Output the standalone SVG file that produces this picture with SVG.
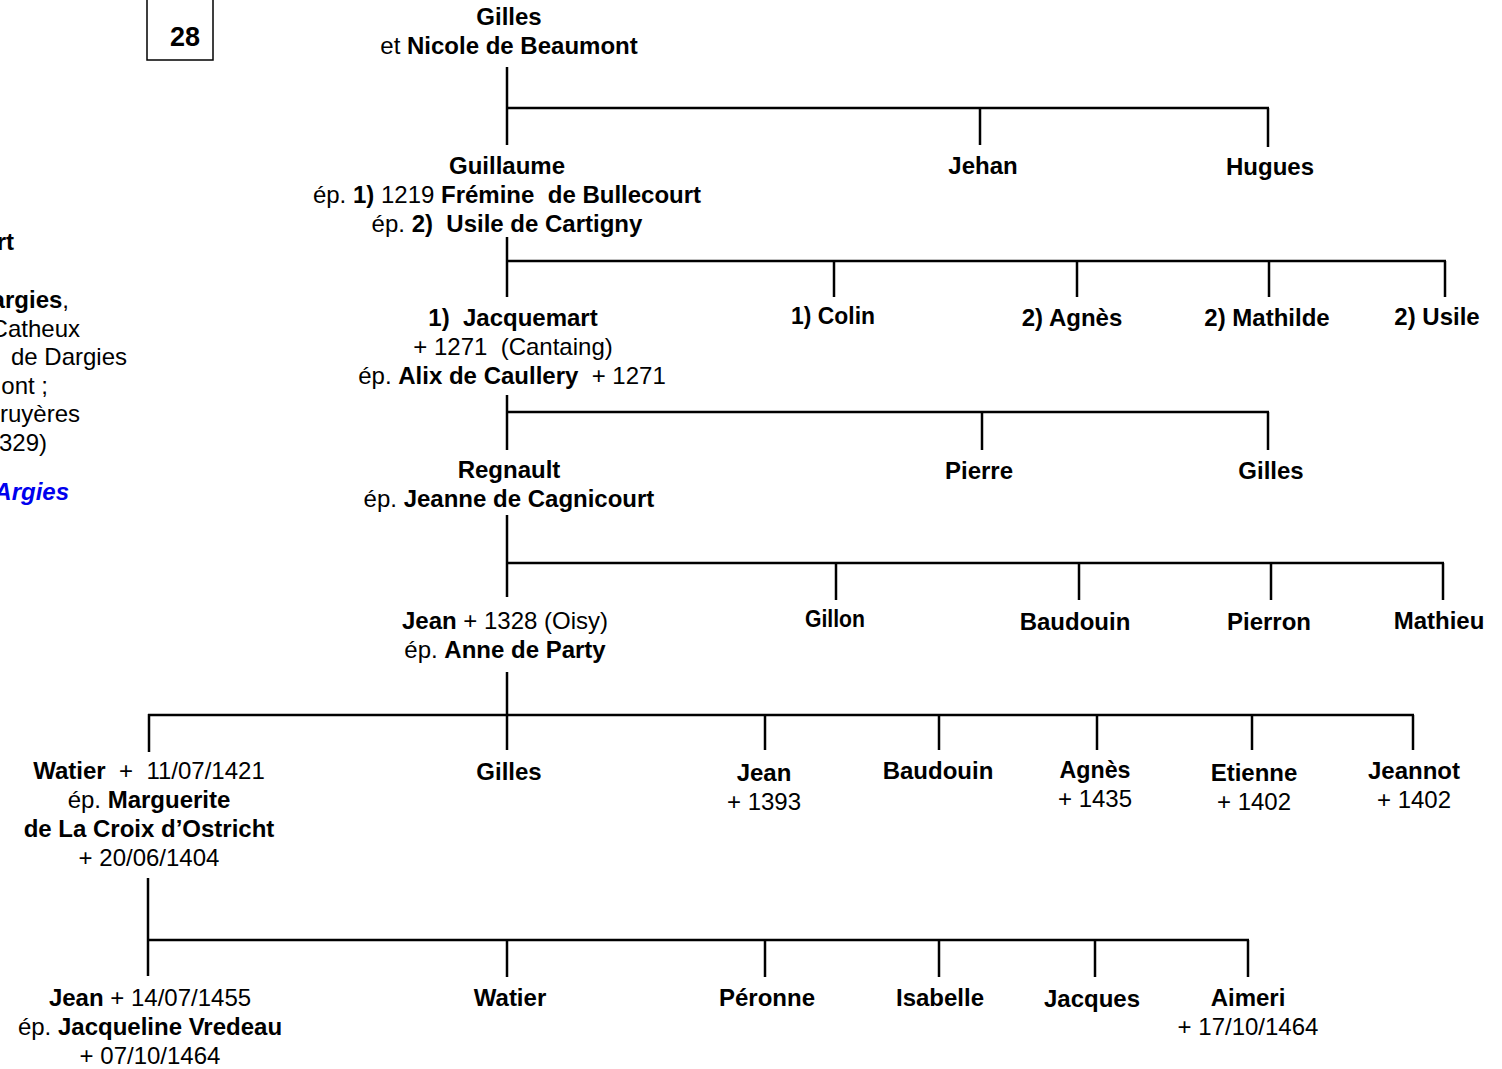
<svg xmlns="http://www.w3.org/2000/svg" width="1502" height="1069" viewBox="0 0 1502 1069">
<style>
text{font-family:"Liberation Sans",Arial,sans-serif;font-size:24px;fill:#000;text-anchor:middle;white-space:pre}
.b{font-weight:bold}
.r{font-weight:normal}
.e{text-anchor:end}
.blue{fill:#0000ee;font-weight:bold;font-style:italic}
#connectors line{stroke:#000;stroke-width:2.5}
</style>
<rect width="1502" height="1069" fill="#fff"/>
<g id="box"><rect x="147" y="-2" width="66" height="62" fill="none" stroke="#000" stroke-width="1.5"/><text x="185" y="46" class="b" style="font-size:27px">28</text></g>
<g id="sidebar">
<text x="14" y="250" class="b e">rt</text>
<text x="69" y="308" class="e"><tspan class="b">argies</tspan>,</text>
<text x="80" y="337" class="e">Catheux</text>
<text x="127" y="365" class="e">de Dargies</text>
<text x="48" y="394" class="e">ont ;</text>
<text x="80" y="422" class="e">ruyères</text>
<text x="47" y="451" class="e">329)</text>
<text x="69" y="500" class="e blue">Argies</text>
</g>
<g id="connectors">
<line x1="507" y1="67" x2="507" y2="145"/><line x1="507" y1="108" x2="1269" y2="108"/><line x1="980" y1="108" x2="980" y2="145"/><line x1="1268" y1="108" x2="1268" y2="147"/>
<line x1="507" y1="237" x2="507" y2="297"/><line x1="507" y1="261" x2="1446" y2="261"/><line x1="834" y1="261" x2="834" y2="297"/><line x1="1077" y1="261" x2="1077" y2="297"/><line x1="1269" y1="261" x2="1269" y2="297"/><line x1="1445" y1="261" x2="1445" y2="297"/>
<line x1="507" y1="395" x2="507" y2="450"/><line x1="507" y1="412" x2="1269" y2="412"/><line x1="982" y1="412" x2="982" y2="450"/><line x1="1268" y1="412" x2="1268" y2="450"/>
<line x1="507" y1="515" x2="507" y2="597"/><line x1="507" y1="563" x2="1444" y2="563"/><line x1="836" y1="563" x2="836" y2="600"/><line x1="1079" y1="563" x2="1079" y2="600"/><line x1="1271" y1="563" x2="1271" y2="600"/><line x1="1443" y1="563" x2="1443" y2="600"/>
<line x1="507" y1="672" x2="507" y2="750"/><line x1="148" y1="715" x2="1414" y2="715"/><line x1="149" y1="714" x2="149" y2="752"/><line x1="765" y1="715" x2="765" y2="750"/><line x1="939" y1="715" x2="939" y2="750"/><line x1="1097" y1="715" x2="1097" y2="750"/><line x1="1252" y1="715" x2="1252" y2="750"/><line x1="1413" y1="715" x2="1413" y2="750"/>
<line x1="148" y1="878" x2="148" y2="976"/><line x1="148" y1="940" x2="1249" y2="940"/><line x1="507" y1="940" x2="507" y2="977"/><line x1="765" y1="940" x2="765" y2="977"/><line x1="939" y1="940" x2="939" y2="977"/><line x1="1095" y1="940" x2="1095" y2="977"/><line x1="1248" y1="940" x2="1248" y2="977"/>
</g>
<g id="n-gilles"><text x="509" y="25" class="b">Gilles</text><text x="509" y="54">et <tspan class="b">Nicole de Beaumont</tspan></text></g>
<g id="n-guillaume"><text x="507" y="174" class="b">Guillaume</text><text x="507" y="203">ép. <tspan class="b">1)</tspan> 1219 <tspan class="b">Frémine  de Bullecourt</tspan></text><text x="507" y="232">ép. <tspan class="b">2)  Usile de Cartigny</tspan></text></g>
<g id="n-jehan"><text x="983" y="174" class="b">Jehan</text></g>
<g id="n-hugues"><text x="1270" y="175" class="b">Hugues</text></g>
<g id="n-jacquemart"><text x="513" y="326" class="b">1)  Jacquemart</text><text x="513" y="355">+ 1271  (Cantaing)</text><text x="512" y="384">ép. <tspan class="b">Alix de Caullery</tspan>  + 1271</text></g>
<g id="n-colin"><text x="833" y="324" class="b" textLength="84" lengthAdjust="spacingAndGlyphs">1) Colin</text></g>
<g id="n-agnes1"><text x="1072" y="326" class="b">2) Agnès</text></g>
<g id="n-mathilde"><text x="1267" y="326" class="b">2) Mathilde</text></g>
<g id="n-usile"><text x="1437" y="325" class="b">2) Usile</text></g>
<g id="n-regnault"><text x="509" y="478" class="b">Regnault</text><text x="509" y="507">ép. <tspan class="b">Jeanne de Cagnicourt</tspan></text></g>
<g id="n-pierre"><text x="979" y="479" class="b">Pierre</text></g>
<g id="n-gilles2"><text x="1271" y="479" class="b">Gilles</text></g>
<g id="n-jean1"><text x="505" y="629"><tspan class="b">Jean</tspan> + 1328 (Oisy)</text><text x="505" y="658">ép. <tspan class="b">Anne de Party</tspan></text></g>
<g id="n-gillon"><text x="835" y="627" class="b" textLength="60" lengthAdjust="spacingAndGlyphs">Gillon</text></g>
<g id="n-baudouin1"><text x="1075" y="630" class="b">Baudouin</text></g>
<g id="n-pierron"><text x="1269" y="630" class="b">Pierron</text></g>
<g id="n-mathieu"><text x="1439" y="629" class="b">Mathieu</text></g>
<g id="n-watier1"><text x="149" y="779"><tspan class="b">Watier</tspan>  +  11/07/1421</text><text x="149" y="808">ép. <tspan class="b">Marguerite</tspan></text><text x="149" y="837" class="b">de La Croix d’Ostricht</text><text x="149" y="866">+ 20/06/1404</text></g>
<g id="n-gilles3"><text x="509" y="780" class="b">Gilles</text></g>
<g id="n-jean2"><text x="764" y="781" class="b">Jean</text><text x="764" y="810">+ 1393</text></g>
<g id="n-baudouin2"><text x="938" y="779" class="b">Baudouin</text></g>
<g id="n-agnes2"><text x="1095" y="778" class="b" textLength="71" lengthAdjust="spacingAndGlyphs">Agnès</text><text x="1095" y="807">+ 1435</text></g>
<g id="n-etienne"><text x="1254" y="781" class="b">Etienne</text><text x="1254" y="810">+ 1402</text></g>
<g id="n-jeannot"><text x="1414" y="779" class="b">Jeannot</text><text x="1414" y="808">+ 1402</text></g>
<g id="n-jean3"><text x="150" y="1006"><tspan class="b">Jean</tspan> + 14/07/1455</text><text x="150" y="1035">ép. <tspan class="b">Jacqueline Vredeau</tspan></text><text x="150" y="1064">+ 07/10/1464</text></g>
<g id="n-watier2"><text x="510" y="1006" class="b">Watier</text></g>
<g id="n-peronne"><text x="767" y="1006" class="b">Péronne</text></g>
<g id="n-isabelle"><text x="940" y="1006" class="b">Isabelle</text></g>
<g id="n-jacques"><text x="1092" y="1007" class="b">Jacques</text></g>
<g id="n-aimeri"><text x="1248" y="1006" class="b">Aimeri</text><text x="1248" y="1035">+ 17/10/1464</text></g>
</svg>
